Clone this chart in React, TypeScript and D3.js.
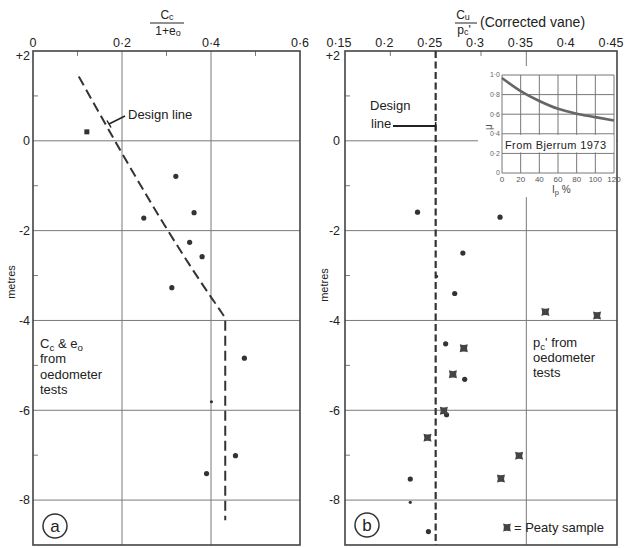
import React from 'react';
import * as d3 from 'd3';

// panel (a): Cc/(1+e0) against depth
const aRatio = [0.121, 0.321, 0.249, 0.362, 0.352, 0.380, 0.312, 0.475, 0.401, 0.455, 0.390];
const aDepth = [0.2, -0.79, -1.72, -1.6, -2.26, -2.58, -3.27, -4.84, -5.81, -7.01, -7.41];
const aMarker = ['square', 'dot', 'dot', 'dot', 'dot', 'dot', 'dot', 'dot', 'small', 'dot', 'dot'];
const aDesignRatio = [0.103, 0.40, 0.418, 0.432, 0.432];
const aDesignDepth = [1.43, -3.48, -3.74, -4.0, -8.45];
const aTicks = [0, 0.2, 0.4, 0.6];
const aTickLabels = ['0', '0·2', '0·4', '0·6'];

// panel (b): cu/pc' against depth
const bDotRatio = [0.230, 0.321, 0.280, 0.251, 0.271, 0.261, 0.282, 0.262, 0.222, 0.222, 0.242];
const bDotDepth = [-1.59, -1.70, -2.50, -3.02, -3.40, -4.52, -5.31, -6.10, -7.53, -8.05, -8.70];
const bDotSmall = [false, false, false, true, false, false, false, false, false, true, false];
const bPeatRatio = [0.371, 0.428, 0.281, 0.269, 0.259, 0.241, 0.342, 0.322];
const bPeatDepth = [-3.81, -3.89, -4.62, -5.20, -6.01, -6.61, -7.01, -7.52];
const bDesignRatio = 0.25;
const bTicks = [0.15, 0.2, 0.25, 0.3, 0.35, 0.4, 0.45];
const bTickLabels = ['0·15', '0·2', '0·25', '0·3', '0·35', '0·4', '0·45'];

// depth axis
const depthTicks = [2, 0, -2, -4, -6, -8];
const depthLabels = ['+2', '0', '-2', '-4', '-6', '-8'];
const depthMinor = [1, -1, -3, -5, -7];

// inset: Bjerrum correction factor
const ipValues = [0, 20, 40, 60, 80, 100, 120];
const muValues = [0.97, 0.835, 0.735, 0.655, 0.605, 0.57, 0.535];
const muTicks = [0, 0.2, 0.4, 0.6, 0.8, 1.0];
const muLabels = ['0', '0·2', '0·4', '0·6', '0·8', '1·0'];

const FONT = '"Liberation Sans", Arial, sans-serif';
const INK = '#222';
const GRID = '#7a7a7a';

const peatPath = 'M-4,-4 Q0,-2.4 4,-4 Q2.4,0 4,4 Q0,2.4 -4,4 Q-2.4,0 -4,-4 Z';

export default function App() {
  const y = d3.scaleLinear().domain([2, -9]).range([51, 545]);
  const xA = d3.scaleLinear().domain([0, 0.6]).range([33, 300]);
  const xB = d3.scaleLinear().domain([0.15, 0.45]).range([345, 617]);
  const xI = d3.scaleLinear().domain([0, 120]).range([502, 614]);
  const yI = d3.scaleLinear().domain([0, 1]).range([173, 75]);

  const designA = d3.line<number>()
    .x((d, i) => xA(aDesignRatio[i]))
    .y((d, i) => y(aDesignDepth[i]))
    .curve(d3.curveMonotoneY)(aDesignDepth);

  const muLine = d3.line<number>()
    .x((d, i) => xI(ipValues[i]))
    .y((d) => yI(d))
    .curve(d3.curveMonotoneX)(muValues);

  const sub = (t: string, shift = '-25%') => <tspan baselineShift={shift} fontSize="0.75em">{t}</tspan>;

  const depthAxis = (x0: number, labelX: number) => (
    <g>
      {depthTicks.map((t, i) => (
        <text key={t} x={labelX} y={y(t) + (t === 2 ? 5 : 0)} dy="0.35em" textAnchor="end"
          fontSize={12.5} fill={INK}>{depthLabels[i]}</text>
      ))}
      {depthMinor.map((t) => (
        <line key={t} x1={x0} x2={x0 + 5} y1={y(t)} y2={y(t)} stroke={GRID} />
      ))}
    </g>
  );

  return (
    <svg width={627} height={548} style={{ position: 'absolute', left: 0, top: 0, background: '#fff' }}
      fontFamily={FONT}>
      <rect width={627} height={548} fill="#fff" />

      {/* ---------- panel a ---------- */}
      <g>
        {[0.2, 0.4].map((t) => (
          <line key={t} x1={xA(t)} x2={xA(t)} y1={y(2)} y2={y(-9)} stroke={GRID} />
        ))}
        {[0, -2, -4, -6, -8].map((t) => (
          <line key={t} x1={xA(0)} x2={xA(0.6)} y1={y(t)} y2={y(t)} stroke={GRID} />
        ))}
        {[0.1, 0.3, 0.5].map((t) => (
          <line key={t} x1={xA(t)} x2={xA(t)} y1={y(2)} y2={y(2) + 5} stroke={GRID} />
        ))}
        {depthAxis(xA(0), 30)}
        {aTicks.map((t, i) => (
          <text key={t} x={xA(t)} y={47} textAnchor="middle" fontSize={12.5} fill={INK}>{aTickLabels[i]}</text>
        ))}
        <rect x={xA(0)} y={y(2)} width={xA(0.6) - xA(0)} height={y(-9) - y(2)}
          fill="none" stroke="#444" strokeWidth={1.6} />

        {/* title fraction */}
        <text x={167} y={19} textAnchor="middle" fontSize={12} fill={INK}>C{sub('c', '-10%')}</text>
        <line x1={150} x2={184} y1={23} y2={23} stroke={INK} strokeWidth={1} />
        <text x={168} y={35} textAnchor="middle" fontSize={12} fill={INK}>1+e{sub('o', '-10%')}</text>

        <text transform={`translate(15,${282}) rotate(-90)`} textAnchor="middle" fontSize={11} fill={INK}>metres</text>

        <path d={designA || ''} fill="none" stroke="#333" strokeWidth={2} strokeDasharray="10,5" />
        <line x1={109} y1={124} x2={125} y2={116} stroke={INK} strokeWidth={1.5} />
        <line x1={107} y1={120.5} x2={111} y2={127.5} stroke={INK} strokeWidth={1.5} />
        <text x={128} y={119} fontSize={13} fill={INK}>Design line</text>

        {aRatio.map((v, i) => aMarker[i] === 'square'
          ? <rect key={i} x={xA(v) - 2.5} y={y(aDepth[i]) - 2.5} width={5} height={5} fill="#333" />
          : <circle key={i} cx={xA(v)} cy={y(aDepth[i])} r={aMarker[i] === 'small' ? 1.6 : 2.6} fill="#333" />)}

        <text x={40} fontSize={13} fill={INK}>
          <tspan x={40} y={348}>C{sub('c')} &amp; e{sub('o')}</tspan>
          <tspan x={40} y={363}>from</tspan>
          <tspan x={40} y={379}>oedometer</tspan>
          <tspan x={40} y={394}>tests</tspan>
        </text>

        <circle cx={55} cy={526} r={12} fill="none" stroke="#333" strokeWidth={1.5} />
        <text x={55} y={526} dy="0.35em" textAnchor="middle" fontSize={17} fill={INK}>a</text>
      </g>

      {/* ---------- panel b ---------- */}
      <g>
        <line x1={xB(0.35)} x2={xB(0.35)} y1={y(2)} y2={y(-9)} stroke={GRID} />
        {[0, -2, -4, -6, -8].map((t) => (
          <line key={t} x1={xB(0.15)} x2={xB(0.45)} y1={y(t)} y2={y(t)} stroke={GRID} />
        ))}
        {[0.2, 0.3].map((t) => (
          <line key={t} x1={xB(t)} x2={xB(t)} y1={y(2)} y2={y(2) + 5} stroke={GRID} />
        ))}
        {depthAxis(xB(0.15), 340)}
        {bTicks.map((t, i) => (
          <text key={t} x={xB(t) - 6} y={47} textAnchor="middle" fontSize={12.5} fill={INK}>{bTickLabels[i]}</text>
        ))}

        {/* title */}
        <text x={463} y={19} textAnchor="middle" fontSize={12} fill={INK}>C{sub('u', '-10%')}</text>
        <line x1={455} x2={477} y1={23} y2={23} stroke={INK} strokeWidth={1} />
        <text x={464} y={34} textAnchor="middle" fontSize={12} fill={INK}>p{sub('c', '-10%')}'</text>
        <text x={480} y={27} fontSize={14} fill={INK}>(Corrected vane)</text>

        <text transform={`translate(328,${285}) rotate(-90)`} textAnchor="middle" fontSize={11} fill={INK}>metres</text>

        {/* inset */}
        <rect x={478} y={66} width={138} height={131} fill="#fff" />
        <g>
          {ipValues.map((t) => (
            <line key={t} x1={xI(t)} x2={xI(t)} y1={yI(0)} y2={yI(1)} stroke="#777" />
          ))}
          {muTicks.map((t) => (
            <line key={t} x1={xI(0)} x2={xI(120)} y1={yI(t)} y2={yI(t)} stroke="#777" />
          ))}
          <rect x={xI(0) + 1} y={yI(0.4) + 1} width={xI(120) - xI(0) - 1.5} height={yI(0.2) - yI(0.4) - 2} fill="#fff" />
          <text x={xI(0) + 3} y={yI(0.2) - 4} fontSize={11} fill={INK} textLength={101}>From Bjerrum 1973</text>
          <path d={muLine || ''} fill="none" stroke="#666" strokeWidth={2.6} />
          {muTicks.map((t, i) => (
            <text key={t} x={xI(0) - 2} y={yI(t)} dy="0.35em" textAnchor="end" fontSize={7} fill="#666">{muLabels[i]}</text>
          ))}
          {ipValues.map((t) => (
            <text key={t} x={xI(t)} y={182} textAnchor="middle" fontSize={8} fill="#555">{t}</text>
          ))}
          <text x={552} y={193} fontSize={10} fill="#444">I{sub('p')} %</text>
          <text transform="translate(492,127) rotate(-90)" textAnchor="middle" fontSize={10} fill="#555">μ</text>
        </g>

        <rect x={xB(0.15)} y={y(2)} width={xB(0.45) - xB(0.15)} height={y(-9) - y(2)}
          fill="none" stroke="#444" strokeWidth={1.6} />

        <line x1={xB(bDesignRatio)} x2={xB(bDesignRatio)} y1={y(2)} y2={y(-9)}
          stroke="#333" strokeWidth={2.2} strokeDasharray="7,3.5" />
        <text x={370} y={110} fontSize={13} fill={INK}>Design</text>
        <text x={371} y={128} fontSize={13} fill={INK}>line</text>
        <line x1={393} x2={xB(bDesignRatio)} y1={126} y2={126} stroke={INK} strokeWidth={1.8} />
        <line x1={xB(bDesignRatio)} x2={xB(bDesignRatio)} y1={122} y2={130} stroke={INK} strokeWidth={1.5} />

        {bDotRatio.map((v, i) => (
          <circle key={i} cx={xB(v)} cy={y(bDotDepth[i])} r={bDotSmall[i] ? 1.6 : 2.6} fill="#333" />
        ))}
        {bPeatRatio.map((v, i) => (
          <path key={i} d={peatPath} transform={`translate(${xB(v)},${y(bPeatDepth[i])})`} fill="#444" />
        ))}

        <text fontSize={13} fill={INK}>
          <tspan x={533} y={347}>p{sub('c')}' from</tspan>
          <tspan x={533} y={362}>oedometer</tspan>
          <tspan x={533} y={377}>tests</tspan>
        </text>

        <path d={peatPath} transform="translate(507,527.5)" fill="#444" />
        <text x={514} y={532} fontSize={13} fill={INK}>= Peaty sample</text>

        <circle cx={367} cy={525} r={12} fill="none" stroke="#333" strokeWidth={1.5} />
        <text x={367} y={525} dy="0.35em" textAnchor="middle" fontSize={17} fill={INK}>b</text>
      </g>
    </svg>
  );
}
